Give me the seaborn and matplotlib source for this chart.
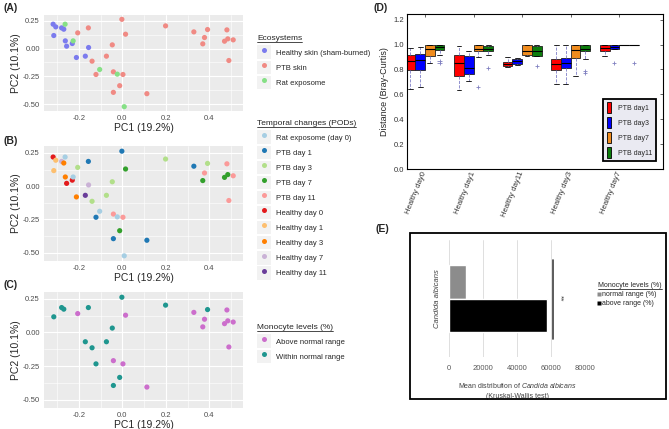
import numpy as np
import pandas as pd
import seaborn as sns
import matplotlib.pyplot as plt
from matplotlib.lines import Line2D
from matplotlib.patches import Patch, Rectangle

sns.set_theme(style="darkgrid")
plt.rcParams['font.family'] = ['Liberation Sans', 'DejaVu Sans']
plt.rcParams['mathtext.fontset'] = 'custom'
plt.rcParams['mathtext.rm'] = 'Liberation Sans'
plt.rcParams['mathtext.it'] = 'Liberation Sans:italic'

# ---- PCA scores (A, B, C) ----
pc1 = [-0.318, -0.306, -0.279, -0.269, -0.315, -0.262, -0.256, -0.230, -0.155, -0.211, -0.170,
       -0.205, -0.156, -0.002, 0.015, -0.046, -0.073, -0.139, -0.121, -0.041, 0.003, -0.012,
       -0.041, 0.113, 0.199, 0.329, 0.392, 0.378, 0.370, 0.481, 0.470, 0.485, 0.510, 0.490,
       -0.263, -0.226, -0.104, -0.023, 0.009]
pc2 = [0.219, 0.195, 0.186, 0.174, 0.117, 0.069, 0.021, 0.045, 0.009, -0.081, -0.069,
       0.141, 0.186, 0.263, 0.129, 0.033, -0.069, -0.114, -0.234, -0.210, -0.234, -0.335,
       -0.395, -0.407, 0.204, 0.150, 0.171, 0.099, 0.042, 0.168, 0.066, 0.087, 0.078, -0.108,
       0.219, 0.069, -0.189, -0.231, -0.524]
ecosystem = (["Healthy skin (sham-burned)"] * 11 + ["PTB skin"] * 23 + ["Rat exposome"] * 5)
timepoint = ["Healthy day 0", "Healthy day 1", "Healthy day 7", "Healthy day 3", "Healthy day 1",
             "Healthy day 3", "Healthy day 0", "Healthy day 0", "Healthy day 7", "Healthy day 3",
             "Healthy day 11",
             "PTB day 3", "PTB day 1", "PTB day 1", "PTB day 7", "PTB day 3", "PTB day 3",
             "PTB day 3", "PTB day 1", "PTB day 11", "PTB day 11", "PTB day 7", "PTB day 1",
             "PTB day 1", "PTB day 3", "PTB day 1", "PTB day 3", "PTB day 11", "PTB day 7",
             "PTB day 11", "PTB day 7", "PTB day 7", "PTB day 11", "PTB day 11"] + \
            ["Rat exposome (day 0)"] * 5
A_, W_ = "Above normal range", "Within normal range"
monocyte = [None, None, W_, W_, W_, None, None, None, None, None, W_,
            A_, W_, W_, A_, W_, W_, W_, W_, A_, A_, W_, W_, A_, W_, A_, W_, A_, A_, A_, A_, A_, A_, A_,
            None, None, None, None, None]

eco_order = ["Healthy skin (sham-burned)", "PTB skin", "Rat exposome"]
eco_colors = ["#7B7BEE", "#F08A84", "#86E086"]
time_order = ["Rat exposome (day 0)", "PTB day 1", "PTB day 3", "PTB day 7", "PTB day 11",
              "Healthy day 0", "Healthy day 1", "Healthy day 3", "Healthy day 7", "Healthy day 11"]
time_colors = ["#A6CEE3", "#1F78B4", "#B2DF8A", "#33A02C", "#FB9A99",
               "#E31A1C", "#FDBF6F", "#FF7F00", "#CAB2D6", "#6A3D9A"]
mono_order = [A_, W_]
mono_colors = ["#CC6ECC", "#1F968F"]

# ---- Bray-Curtis distances (D): [low whisker, q1, median, q3, high whisker] ----
d_cats = ["Healthy day0", "Healthy day1", "Healthy day11", "Healthy day3", "Healthy day7"]
d_hues = ["PTB day1", "PTB day3", "PTB day7", "PTB day11"]
d_colors = ["#FF0000", "#0000FF", "#F08C1E", "#0C7D0C"]
d_box = {
    "PTB day1": [[0.645, 0.792, 0.866, 0.912, 0.974], [0.632, 0.744, 0.853, 0.912, 0.984],
                 [0.820, 0.827, 0.845, 0.858, 0.899], [0.685, 0.797, 0.845, 0.885, 0.998],
                 [0.904, 0.944, 0.973, 0.995, 1.000]],
    "PTB day3": [[0.660, 0.792, 0.872, 0.920, 0.979], [0.706, 0.765, 0.813, 0.904, 0.945],
                 [0.835, 0.840, 0.866, 0.880, 0.895], [0.680, 0.813, 0.853, 0.890, 0.998],
                 [0.965, 0.965, 0.980, 0.995, 1.000]],
    "PTB day7": [[0.853, 0.904, 0.965, 0.998, 1.000], [0.899, 0.947, 0.965, 0.995, 1.000],
                 [0.904, 0.912, 0.950, 0.998, 1.000], [0.747, 0.893, 0.957, 0.998, 1.000],
                 [1.000, 1.000, 1.000, 1.000, 1.000]],
    "PTB day11": [[0.912, 0.952, 0.979, 0.998, 1.000], [0.912, 0.947, 0.965, 0.990, 1.000],
                  [0.904, 0.904, 0.950, 0.990, 1.000], [0.885, 0.944, 0.965, 0.998, 1.000],
                  [1.000, 1.000, 1.000, 1.000, 1.000]],
}
d_outliers = [("Healthy day0", "PTB day11", 0.870), ("Healthy day0", "PTB day11", 0.850),
              ("Healthy day1", "PTB day7", 0.660), ("Healthy day1", "PTB day11", 0.810),
              ("Healthy day11", "PTB day11", 0.824), ("Healthy day3", "PTB day11", 0.790),
              ("Healthy day3", "PTB day11", 0.770), ("Healthy day7", "PTB day3", 0.853),
              ("Healthy day7", "PTB day11", 0.853)]

# ---- Candida albicans (E) ----
e_levels = ["normal range (%)", "above range (%)"]
e_means = [10000, 57500]
e_colors = ["#8C8C8C", "#000000"]

W, H = 669, 429
fig = plt.figure(figsize=(W / 100, H / 100), dpi=100)


def px_axes(l, t, r, b):
    return fig.add_axes([l / W, 1 - b / H, (r - l) / W, (b - t) / H])


def style_pca(ax):
    ax.set_facecolor("#EBEBEB")
    ax.set_xlim(-0.36, 0.555)
    ax.set_ylim(-0.563, 0.302)
    ax.set_xticks([-0.2, 0, 0.2, 0.4])
    ax.set_xticklabels(["-0.2", "0.0", "0.2", "0.4"])
    ax.set_yticks([-0.5, -0.25, 0, 0.25])
    ax.set_yticklabels(["-0.50", "-0.25", "0.00", "0.25"])
    ax.set_xticks([-0.3, -0.1, 0.1, 0.3, 0.5], minor=True)
    ax.set_yticks([-0.375, -0.125, 0.125], minor=True)
    ax.grid(which="major", color="white", lw=0.8)
    ax.grid(which="minor", color="white", lw=0.4)
    ax.tick_params(which="major", length=2, width=0.6, color="#333333",
                   labelsize=5.5, labelcolor="#4D4D4D", pad=1)
    ax.tick_params(which="minor", length=0)
    ax.set_xlabel("PC1 (19.2%)", fontsize=7.5, labelpad=0.5)
    ax.set_ylabel("PC2 (10.1%)", fontsize=7.5, labelpad=1)
    for s in ax.spines.values():
        s.set_visible(False)
    ax.set_axisbelow(True)


def key_legend(ax, labels, colors, title, x, y):
    handles = [(Rectangle((0, 0), 1, 1, facecolor="#F2F2F2", edgecolor="none"),
                Line2D([], [], ls="", marker="o", ms=3.6, mfc=c, mec="none")) for c in colors]
    leg = ax.legend(handles, labels, title=title, loc="upper left",
                    bbox_to_anchor=(x / W, 1 - y / H), bbox_transform=fig.transFigure,
                    frameon=False, fontsize=5.5, title_fontsize=6, handlelength=1.8,
                    handleheight=2.35, labelspacing=0.2, handletextpad=0.7,
                    borderaxespad=0, borderpad=0)
    leg._legend_box.align = "left"
    leg._legend_box.sep = 2.5
    return leg


df = pd.DataFrame({"PC1": pc1, "PC2": pc2, "Ecosystem": ecosystem,
                   "Time": timepoint, "Monocyte": monocyte})

axA = px_axes(44, 15, 243, 111)
sns.scatterplot(data=df, x="PC1", y="PC2", hue="Ecosystem", hue_order=eco_order,
                palette=eco_colors, s=14, linewidth=0, legend=False, ax=axA)
style_pca(axA)
legA = key_legend(axA, eco_order, eco_colors, "Ecosystems", 257, 35)

axB = px_axes(44, 146, 243, 261)
sns.scatterplot(data=df, x="PC1", y="PC2", hue="Time", hue_order=time_order,
                palette=time_colors, s=14, linewidth=0, legend=False, ax=axB)
style_pca(axB)
legB = key_legend(axB, time_order, time_colors, "Temporal changes (PODs)", 257, 120)

axC = px_axes(44, 292, 243, 408)
sns.scatterplot(data=df.dropna(subset=["Monocyte"]), x="PC1", y="PC2", hue="Monocyte",
                hue_order=mono_order, palette=mono_colors, s=14, linewidth=0,
                legend=False, ax=axC)
style_pca(axC)
legC = key_legend(axC, ["Above normal range", "Within normal range"], mono_colors,
                  "Monocyte levels (%)", 257, 324)

# ---- D ----
rows = []
for hue in d_hues:
    for cat, vals in zip(d_cats, d_box[hue]):
        for v in vals:
            rows.append((cat, hue, v))
dfD = pd.DataFrame(rows, columns=["group", "ptb", "dist"])
dfO = pd.DataFrame(d_outliers, columns=["group", "ptb", "dist"])

axD = px_axes(407, 14, 663, 169)
axD.set_facecolor("white")
sns.boxplot(data=dfD, x="group", y="dist", hue="ptb", order=d_cats, hue_order=d_hues,
            palette=d_colors, saturation=1, whis=(0, 100), width=0.8, gap=0,
            linewidth=0.6, linecolor="#202020", fliersize=0, legend=False,
            medianprops=dict(color="black", lw=0.8),
            whiskerprops=dict(color="#7F7FC8", ls="--", lw=0.6),
            capprops=dict(color="black", lw=0.6), ax=axD)
sns.stripplot(data=dfO, x="group", y="dist", hue="ptb", order=d_cats, hue_order=d_hues,
              dodge=True, jitter=False, marker="+", size=3, linewidth=0.6,
              palette=["#8080C0"] * 4, legend=False, ax=axD)
axD.set_xlim(-0.37, 4.9)
axD.set_ylim(0, 1.245)
axD.set_yticks(np.arange(0, 1.21, 0.2))
axD.set_yticklabels(["0.0", "0.2", "0.4", "0.6", "0.8", "1.0", "1.2"])
axD.grid(False)
for s in axD.spines.values():
    s.set_visible(True)
    s.set_color("black")
    s.set_linewidth(0.8)
axD.tick_params(direction="in", length=2, width=0.5, top=True, right=True,
                labelsize=5.5, labelcolor="#333333", pad=2)
plt.setp(axD.get_xticklabels(), rotation=68, ha="right", va="center",
         rotation_mode="anchor", fontsize=5.5)
axD.set_xlabel("")
axD.set_ylabel("Distance (Bray-Curtis)", fontsize=6.5, labelpad=3)
hD = [Patch(facecolor=c, edgecolor="black", lw=0.6) for c in d_colors]
legD = axD.legend(hD, d_hues, loc="upper left", bbox_to_anchor=(0.766, 0.452),
                  fontsize=5, handlelength=0.7, handleheight=2.0, labelspacing=0.6,
                  handletextpad=1.0, borderpad=0.5, frameon=True, fancybox=False,
                  edgecolor="black", framealpha=1, borderaxespad=0)
legD.get_frame().set_linewidth(1.3)

# ---- E ----
dfE = pd.DataFrame({"species": ["Candida albicans"] * 2, "level": e_levels, "mean": e_means})
axE = px_axes(449, 240, 585, 357)
axE.set_facecolor("white")
sns.barplot(data=dfE, y="species", x="mean", hue="level", hue_order=e_levels,
            palette=e_colors, saturation=1, width=0.58, errorbar=None, orient="h",
            legend=False, ax=axE)
axE.set_xlim(0, 80000)
axE.set_ylim(0.5, -0.5)
axE.set_xticks([0, 20000, 40000, 60000, 80000])
axE.grid(axis="x", color="#D9D9D9", lw=0.6)
axE.grid(axis="y", visible=False)
axE.set_axisbelow(True)
for s in axE.spines.values():
    s.set_visible(False)
axE.tick_params(length=0, labelsize=5.5, labelcolor="#595959", pad=6)
plt.setp(axE.get_yticklabels(), rotation=90, va="center", style="italic", color="#404040")
axE.set_ylabel("")
axE.set_xlabel("Mean distribution of $\\it{Candida\\ albicans}$\n(Kruskal-Wallis test)",
               fontsize=5, color="#404040", labelpad=6, linespacing=1.6)
axE.plot([61000, 61000], [-0.333, 0.342], color="#404040", lw=1.2)
axE.text(65000, 0, "**", rotation=-90, ha="center", va="center", fontsize=6, color="#404040")
hE = [Line2D([], [], ls="", marker="s", ms=2.2, mfc=c, mec="none") for c in e_colors]
legE = axE.legend(hE, e_levels, title="Monocyte levels (%)", loc="upper left",
                  bbox_to_anchor=(598 / W, 1 - 282 / H), bbox_transform=fig.transFigure,
                  frameon=False, fontsize=5, title_fontsize=5, handlelength=0.4,
                  handletextpad=0.15, labelspacing=0.3, borderaxespad=0, borderpad=0)
legE._legend_box.align = "left"
fig.add_artist(Rectangle((410 / W, 1 - 399 / H), 256 / W, 166 / H, transform=fig.transFigure,
                         fill=False, ec="black", lw=1.3))

# panel letters
for lab, x, y in [("(A)", 3, 8), ("(B)", 3, 141), ("(C)", 3, 285), ("(D)", 373, 8), ("(E)", 376, 229)]:
    fig.text(x / W, 1 - y / H, lab, fontsize=7.5, fontweight="bold", va="center", ha="left")

# underline legend titles
fig.canvas.draw()
inv = fig.transFigure.inverted()
for leg in [legA, legB, legC, legE]:
    bb = leg.get_title().get_window_extent()
    (x0, y0), (x1, _) = inv.transform([(bb.x0, bb.y0 + 0.5), (bb.x1, bb.y0)])
    fig.add_artist(Line2D([x0, x1], [y0, y0], transform=fig.transFigure, color="black", lw=0.5))

fig.savefig("out.png", dpi=100)
